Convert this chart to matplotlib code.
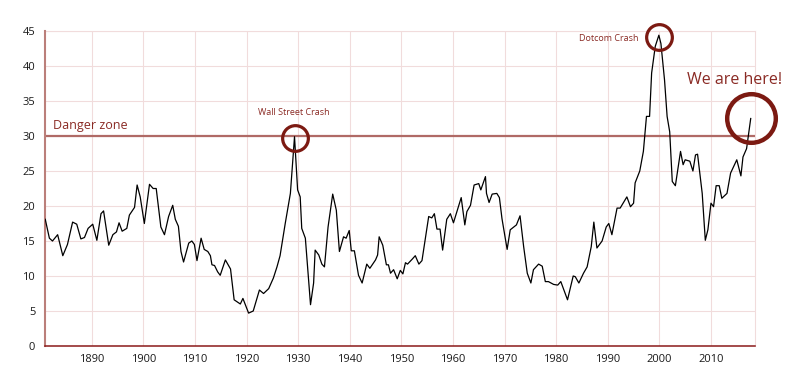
"""Shiller CAPE ratio 1881-2018 with crash markers and a 'danger zone' line."""

import matplotlib
matplotlib.use("Agg")
import matplotlib.pyplot as plt

plt.rcParams["font.family"] = ["Open Sans", "DejaVu Sans"]

# values (year, CAPE)
years = [
    1881.0, 1881.8, 1882.4, 1883.4, 1884.4, 1885.3, 1886.3, 1887.1, 1887.9, 1888.6,
    1889.3, 1890.2, 1891.0, 1891.8, 1892.3, 1893.3, 1894.1, 1894.8, 1895.3, 1895.9,
    1896.8, 1897.3, 1898.3, 1898.8, 1899.4, 1900.2, 1901.2, 1901.9, 1902.5, 1903.4,
    1904.1, 1904.9, 1905.7, 1906.2, 1906.8, 1907.3, 1907.8, 1908.8, 1909.4, 1909.9,
    1910.4, 1911.2, 1911.8, 1912.5, 1913.0, 1913.3, 1913.8, 1914.4, 1914.9, 1915.9,
    1916.9, 1917.6, 1918.8, 1919.3, 1920.4, 1921.3, 1922.5, 1923.3, 1924.3, 1925.2,
    1925.9, 1926.5, 1927.5, 1928.5, 1929.3, 1929.9, 1930.4, 1930.7, 1931.4, 1932.4,
    1933.0, 1933.3, 1934.0, 1934.6, 1935.1, 1935.8, 1936.7, 1937.4, 1938.0, 1938.8,
    1939.3, 1939.9, 1940.3, 1940.9, 1941.7, 1942.4, 1943.3, 1943.9, 1945.0, 1945.4,
    1945.7, 1946.4, 1947.1, 1947.5, 1947.9, 1948.5, 1949.2, 1949.8, 1950.3, 1950.8,
    1951.2, 1952.1, 1952.7, 1953.4, 1954.0, 1955.3, 1955.9, 1956.4, 1956.9, 1957.5,
    1958.0, 1958.8, 1959.5, 1960.1, 1961.6, 1962.3, 1962.7, 1963.4, 1964.1, 1965.0,
    1965.4, 1966.3, 1966.5, 1967.0, 1967.6, 1968.5, 1969.0, 1969.5, 1970.5, 1971.1,
    1972.3, 1973.0, 1973.7, 1974.4, 1975.1, 1975.6, 1976.6, 1977.3, 1977.9, 1978.5,
    1979.5, 1980.3, 1980.9, 1982.2, 1983.3, 1983.7, 1984.4, 1985.3, 1986.0, 1986.8,
    1987.3, 1987.9, 1988.9, 1989.7, 1990.2, 1990.8, 1991.8, 1992.4, 1993.7, 1994.4,
    1995.0, 1995.3, 1996.2, 1996.9, 1997.5, 1998.1, 1998.5, 1999.2, 1999.9, 2000.3,
    2001.0, 2001.5, 2002.0, 2002.5, 2003.1, 2004.1, 2004.6, 2005.0, 2005.9, 2006.5,
    2007.0, 2007.4, 2008.3, 2008.9, 2009.4, 2010.0, 2010.5, 2011.0, 2011.6, 2012.1,
    2013.1, 2013.8, 2015.0, 2015.8, 2016.2, 2016.9, 2017.7,
]
cape = [
    18.1, 15.4, 15.0, 15.9, 12.9, 14.5, 17.7, 17.4, 15.3, 15.5,
    16.8, 17.4, 15.1, 18.9, 19.3, 14.4, 15.9, 16.3, 17.6, 16.4,
    16.8, 18.7, 19.8, 23.0, 21.3, 17.5, 23.1, 22.5, 22.5, 17.0,
    15.9, 18.5, 20.1, 18.1, 17.1, 13.5, 12.0, 14.7, 15.0, 14.5,
    12.2, 15.4, 13.8, 13.5, 12.9, 11.6, 11.5, 10.6, 10.1, 12.3,
    11.0, 6.6, 6.0, 6.8, 4.7, 5.0, 8.0, 7.5, 8.2, 9.7,
    11.3, 12.9, 17.5, 21.8, 29.9, 22.3, 21.3, 16.8, 15.4, 5.9,
    9.0, 13.7, 13.0, 11.7, 11.3, 17.0, 21.7, 19.4, 13.5, 15.6,
    15.4, 16.5, 13.6, 13.6, 10.1, 9.0, 11.7, 11.1, 12.3, 13.0,
    15.6, 14.4, 11.6, 11.6, 10.4, 10.9, 9.6, 10.8, 10.3, 11.9,
    11.7, 12.4, 12.9, 11.7, 12.2, 18.5, 18.3, 18.9, 16.7, 16.7,
    13.7, 18.1, 18.9, 17.6, 21.2, 17.3, 19.2, 20.1, 23.0, 23.2,
    22.3, 24.2, 21.8, 20.5, 21.7, 21.8, 21.2, 18.2, 13.8, 16.6,
    17.3, 18.6, 14.2, 10.4, 9.0, 10.9, 11.7, 11.4, 9.2, 9.2,
    8.8, 8.7, 9.2, 6.6, 10.0, 9.9, 9.0, 10.4, 11.3, 14.2,
    17.7, 14.0, 15.0, 17.0, 17.5, 15.9, 19.7, 19.7, 21.3, 19.9,
    20.4, 23.3, 25.0, 27.8, 32.8, 32.8, 39.0, 42.8, 44.4, 43.2,
    38.0, 32.8, 30.6, 23.5, 22.9, 27.8, 25.9, 26.6, 26.4, 25.0,
    27.3, 27.4, 21.8, 15.1, 16.6, 20.4, 19.9, 22.9, 22.9, 21.1,
    21.8, 24.7, 26.6, 24.3, 27.0, 28.2, 32.5,
]

danger_level = 30
x_ticks = list(range(1890, 2011, 10))
y_ticks = list(range(0, 46, 5))

# highlighted events: (year, value, label)
wall_street = (1929.3, 29.7, "Wall Street Crash")
dotcom = (2000.0, 44.1, "Dotcom Crash")
now = (2017.8, 32.6, "We are here!")

RED_TEXT = "#8a2a24"
RED_RING = "#7c1a12"
RED_LINE = "#b06a66"
GRID = "#f1dcdc"

fig = plt.figure(figsize=(8, 3.91), dpi=100)
ax = fig.add_axes([45 / 800, 45 / 391, 710 / 800, 315 / 391])

ax.plot(years, cape, color="black", linewidth=0.9, zorder=3)
ax.axhline(danger_level, color=RED_LINE, linewidth=1.6, zorder=2)

ax.set_xlim(1880.95, 2018.53)
ax.set_ylim(0, 45)
ax.set_xticks(x_ticks)
ax.set_yticks(y_ticks)
ax.tick_params(length=0, labelsize=8, colors="#1a1a1a")
ax.tick_params(axis="x", pad=6)
ax.tick_params(axis="y", pad=7)
ax.grid(True, color=GRID, linewidth=0.8)
ax.set_axisbelow(True)

for side in ("top", "right"):
    ax.spines[side].set_visible(False)
ax.spines["left"].set_color("#bb7f7a")
ax.spines["left"].set_linewidth(1.5)
ax.spines["bottom"].set_color("#8b1a1a")
ax.spines["bottom"].set_linewidth(1.1)
# light frame lines at top/right like the grid
ax.axhline(45, color=GRID, linewidth=0.8, zorder=1, clip_on=False)
ax.axvline(2018.53, color=GRID, linewidth=0.8, zorder=1, clip_on=False)

# circles around the events
for (yr, val, _), size, edge in ((wall_street, 18.5, 2.3), (dotcom, 18.5, 2.3),
                                 (now, 35, 3.2)):
    ax.plot(yr, val, marker="o", markersize=size, markerfacecolor="none",
            markeredgecolor=RED_RING, markeredgewidth=edge, zorder=4, clip_on=False)

ax.text(1882.5, 31.0, "Danger zone", fontsize=9, color=RED_TEXT, va="baseline")
ax.text(1929.1, 33.0, wall_street[2], fontsize=6.5, color=RED_TEXT,
        ha="center", va="baseline")
ax.text(1995.9, 43.6, dotcom[2], fontsize=6.5, color=RED_TEXT,
        ha="right", va="baseline")
ax.text(2005.4, 37.5, now[2], fontsize=11.5, color=RED_TEXT,
        va="baseline", clip_on=False)

fig.savefig("out.png", dpi=100)
